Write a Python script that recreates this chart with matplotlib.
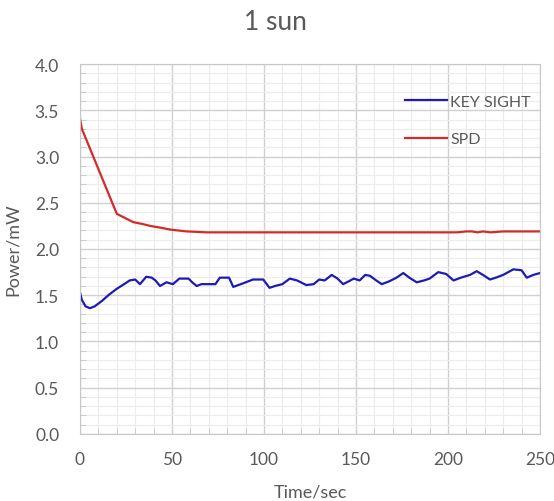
import matplotlib
matplotlib.use("Agg")
import matplotlib.pyplot as plt
from matplotlib.ticker import MultipleLocator

# KEY SIGHT trace
ks_time = [0, 1, 3, 5.4, 8, 12, 16, 20, 24, 27, 30, 32.6, 36, 39, 41, 43.5, 47, 50.5, 54, 59, 61,
           63.4, 66, 69, 73.6, 76, 81, 83.3, 86, 88.8, 94, 99.6, 103, 106, 110, 114, 118, 123, 127,
           130, 133, 136.8, 140, 143, 146, 148.8, 152, 155, 157.6, 161, 164, 168, 172, 175.7, 179,
           183, 187, 190, 194.7, 199, 203, 207, 212, 215.6, 219, 222.8, 226, 230, 235.5, 240, 242.8,
           246.4, 250]
ks_power = [1.53, 1.45, 1.38, 1.36, 1.38, 1.44, 1.51, 1.57, 1.62, 1.66, 1.67, 1.62, 1.70, 1.69, 1.66,
            1.60, 1.64, 1.62, 1.68, 1.68, 1.64, 1.60, 1.62, 1.62, 1.62, 1.69, 1.69, 1.59, 1.61, 1.63,
            1.67, 1.67, 1.58, 1.60, 1.62, 1.68, 1.66, 1.61, 1.62, 1.67, 1.66, 1.72, 1.68, 1.62, 1.65,
            1.68, 1.66, 1.72, 1.71, 1.66, 1.62, 1.65, 1.69, 1.74, 1.69, 1.64, 1.66, 1.68, 1.75, 1.73,
            1.66, 1.69, 1.72, 1.76, 1.72, 1.67, 1.69, 1.72, 1.78, 1.77, 1.69, 1.72, 1.74]

# SPD trace
spd_time = [0, 1, 20, 25, 29, 34, 38, 44, 49, 58, 69, 100, 150, 205, 210, 213, 216, 219, 223, 230, 240, 250]
spd_power = [3.41, 3.30, 2.38, 2.33, 2.29, 2.27, 2.25, 2.23, 2.21, 2.19, 2.18, 2.18, 2.18, 2.18, 2.19,
             2.19, 2.18, 2.19, 2.18, 2.19, 2.19, 2.19]

plt.rcParams["font.family"] = ["Lato", "DejaVu Sans"]
text_color = "#595959"

fig = plt.figure(figsize=(5.54, 5.02), dpi=100)
ax = fig.add_axes([0.1444, 0.1335, 0.8303, 0.7370])

ax.plot(ks_time, ks_power, color="#1c1cb4", linewidth=1.6, label="KEY SIGHT")
ax.plot(spd_time, spd_power, color="#d42a2a", linewidth=1.6, label="SPD")

ax.set_xlim(0, 250)
ax.set_ylim(0, 4.0)
ax.xaxis.set_major_locator(MultipleLocator(50))
ax.xaxis.set_minor_locator(MultipleLocator(10))
ax.yaxis.set_major_locator(MultipleLocator(0.5))
ax.yaxis.set_minor_locator(MultipleLocator(0.1))
ax.yaxis.set_major_formatter(matplotlib.ticker.FormatStrFormatter("%.1f"))

ax.grid(which="major", color="#d0d0d0", linewidth=1.0)
ax.grid(which="minor", color="#ececec", linewidth=0.8)
ax.set_axisbelow(True)

for s in ax.spines.values():
    s.set_color("#c8c8c8")
ax.tick_params(which="major", length=0, labelsize=12.5, labelcolor=text_color)
ax.tick_params(which="minor", direction="in", length=4, color="#c8c8c8")
ax.tick_params(axis="y", which="major", pad=15)
ax.tick_params(axis="x", which="major", pad=12)

ax.set_xlabel("Time/sec", fontsize=13, color=text_color, labelpad=12)
ax.set_ylabel("Power/mW", fontsize=13, color=text_color, labelpad=10)
fig.text(0.498, 0.955, "1 sun", ha="center", va="center", fontsize=19, color=text_color)

leg = ax.legend(loc="upper right", bbox_to_anchor=(1.011, 0.956), frameon=False, fontsize=11.5,
                handlelength=2.6, handletextpad=0.2, labelspacing=1.45)
for t in leg.get_texts():
    t.set_color(text_color)

fig.savefig("out.png", dpi=100)
